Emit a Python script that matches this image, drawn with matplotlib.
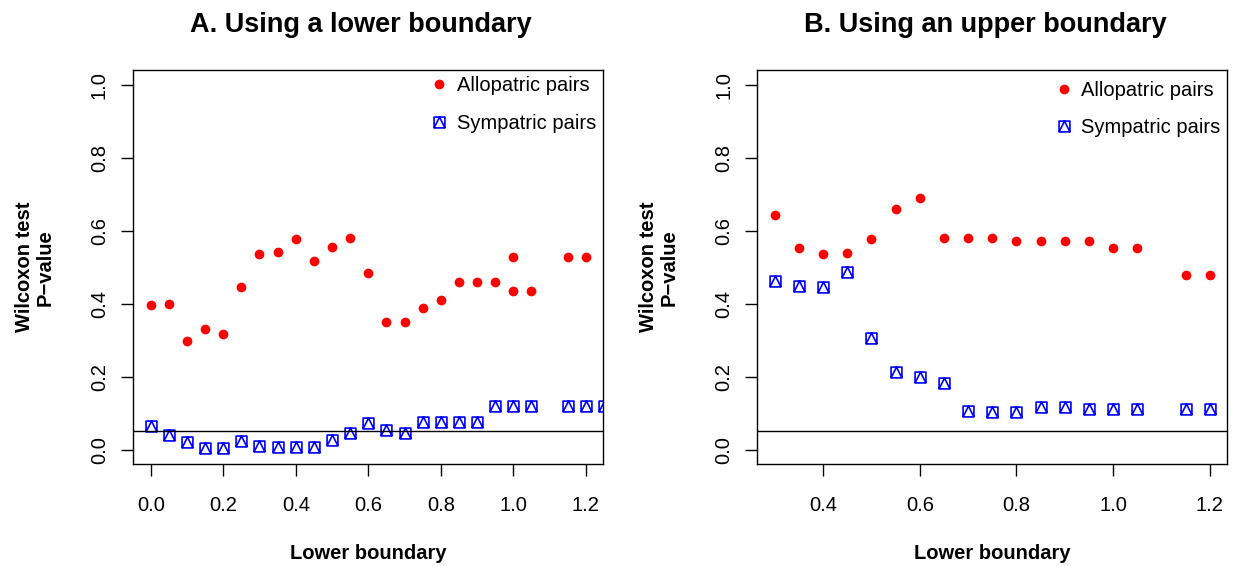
import numpy as np
import matplotlib.pyplot as plt
from matplotlib.path import Path

plt.rcParams['font.family'] = ['Liberation Sans', 'DejaVu Sans']

#%% data

# A: lower boundary
xa_allo = [0.0, 0.05, 0.1, 0.15, 0.2, 0.25, 0.3, 0.35, 0.4, 0.45, 0.5, 0.55,
           0.6, 0.65, 0.7, 0.75, 0.8, 0.85, 0.9, 0.95, 1.0, 1.0, 1.05, 1.15, 1.2]
ya_allo = [0.396, 0.398, 0.298, 0.331, 0.316, 0.447, 0.535, 0.542, 0.578, 0.518,
           0.554, 0.579, 0.485, 0.351, 0.351, 0.388, 0.410, 0.458, 0.458, 0.458,
           0.528, 0.435, 0.435, 0.528, 0.528]
xa_symp = [0.0, 0.05, 0.1, 0.15, 0.2, 0.25, 0.3, 0.35, 0.4, 0.45, 0.5, 0.55,
           0.6, 0.65, 0.7, 0.75, 0.8, 0.85, 0.9, 0.95, 1.0, 1.05, 1.15, 1.2, 1.25]
ya_symp = [0.066, 0.040, 0.022, 0.005, 0.005, 0.025, 0.011, 0.006, 0.008, 0.008,
           0.027, 0.045, 0.072, 0.055, 0.047, 0.077, 0.077, 0.076, 0.076, 0.120,
           0.120, 0.120, 0.120, 0.120, 0.120]

# B: upper boundary
xb = [0.3, 0.35, 0.4, 0.45, 0.5, 0.55, 0.6, 0.65, 0.7, 0.75, 0.8, 0.85,
      0.9, 0.95, 1.0, 1.05, 1.15, 1.2]
yb_allo = [0.642, 0.553, 0.536, 0.538, 0.577, 0.659, 0.690, 0.581, 0.581, 0.581,
           0.572, 0.572, 0.572, 0.572, 0.552, 0.552, 0.478, 0.478]
yb_symp = [0.463, 0.448, 0.445, 0.487, 0.305, 0.212, 0.200, 0.183, 0.107, 0.103,
           0.103, 0.117, 0.117, 0.112, 0.112, 0.112, 0.112, 0.112]

cutoff = 0.05

#%% square-with-triangle marker (like R pch 14)
verts = [(-1, -1), (1, -1), (1, 1), (-1, 1), (-1, -1),
         (-1, -1), (0, 1), (1, -1)]
codes = [Path.MOVETO, Path.LINETO, Path.LINETO, Path.LINETO, Path.CLOSEPOLY,
         Path.MOVETO, Path.LINETO, Path.LINETO]
sq_tri = Path(verts, codes)

fs = 14.5

def panel(ax, xr, yr, xs, ys, xlim, xticks, title, leg_anchor):
    ax.plot(xr, yr, 'o', color='red', markersize=7, markeredgewidth=0,
            label='Allopatric pairs')
    ax.plot(xs, ys, linestyle='none', marker=sq_tri, markersize=7.8,
            markerfacecolor='none', markeredgecolor='blue', markeredgewidth=1.2,
            label='Sympatric pairs')
    ax.axhline(cutoff, color='black', linewidth=1)
    ax.set_xlim(xlim)
    ax.set_ylim(-0.04, 1.04)
    ax.set_xticks(xticks)
    ax.set_xticklabels(['%.1f' % t for t in xticks])
    ax.set_yticks(np.arange(0, 1.01, 0.2))
    ax.set_yticklabels(['%.1f' % t for t in np.arange(0, 1.01, 0.2)])
    plt.setp(ax.get_yticklabels(), rotation=90, va='center')
    ax.tick_params(direction='out', length=8.5, width=1, labelsize=fs)
    ax.tick_params(axis='x', pad=14)
    ax.tick_params(axis='y', pad=9)
    for s in ax.spines.values():
        s.set_linewidth(1)
    ax.set_xlabel('Lower boundary', fontsize=fs, fontweight='bold', labelpad=21)
    ax.text(-0.21, 0.5, 'Wilcoxon test\nP\u2212value', transform=ax.transAxes,
            rotation=90, ha='center', va='center', fontsize=fs,
            fontweight='bold', linespacing=1.1, multialignment='center')
    ax.text(0.485, 1.0 + (70 - 32) / 394.3, title, transform=ax.transAxes,
            ha='center', va='baseline', fontsize=19.5, fontweight='bold')
    ax.legend(loc='upper left', bbox_to_anchor=leg_anchor, frameon=False,
              fontsize=fs, borderpad=0, borderaxespad=0, handlelength=1.0,
              handletextpad=0.37, labelspacing=0.93, numpoints=1)


fig = plt.figure(figsize=(12.33, 5.66), dpi=100)
ax1 = fig.add_axes([0.1081, 0.1797, 0.3812, 0.6966])
ax2 = fig.add_axes([0.6142, 0.1797, 0.3812, 0.6966])

panel(ax1, xa_allo, ya_allo, xa_symp, ya_symp, (-0.048, 1.248),
      [0.0, 0.2, 0.4, 0.6, 0.8, 1.0, 1.2], 'A. Using a lower boundary',
      (0.629, 0.985))
panel(ax2, xb, yb_allo, xb, yb_symp, (0.264, 1.236),
      [0.4, 0.6, 0.8, 1.0, 1.2], 'B. Using an upper boundary',
      (0.631, 0.973))

fig.savefig('out.png', dpi=100)
